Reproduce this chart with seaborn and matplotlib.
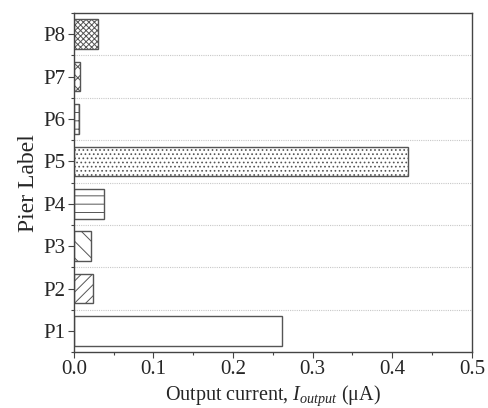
import matplotlib
matplotlib.use("Agg")
import matplotlib.pyplot as plt
import seaborn as sns
import pandas as pd
from matplotlib.ticker import MultipleLocator, FixedLocator

labels = ["P1", "P2", "P3", "P4", "P5", "P6", "P7", "P8"]
values = [0.261, 0.024, 0.021, 0.038, 0.420, 0.0067, 0.0075, 0.0305]
hatches = ["", "///", "\\\\", "--", "....", "++", "xxx", "xxxxxx"]

sns.set_theme(style="ticks")
plt.rcParams["font.family"] = ["Liberation Serif", "DejaVu Serif"]
plt.rcParams["mathtext.fontset"] = "custom"
plt.rcParams["mathtext.it"] = "Liberation Serif:italic"
plt.rcParams["mathtext.rm"] = "Liberation Serif"
plt.rcParams["hatch.color"] = "#555555"
plt.rcParams["hatch.linewidth"] = 0.7

df = pd.DataFrame({"label": labels, "value": values})
order = labels[::-1]

fig = plt.figure(figsize=(4.89, 4.08), dpi=100)
ax = fig.add_axes([0.151, 0.137, 0.814, 0.831])
sns.barplot(data=df, x="value", y="label", order=order, orient="h",
            color="white", edgecolor="#555555", linewidth=1.0, width=0.7,
            saturation=1, ax=ax)

for patch, lab in zip(ax.patches, order):
    patch.set_hatch(hatches[labels.index(lab)])
    patch.set_facecolor("white")

ax.set_xlim(0, 0.5)
ax.set_ylim(7.5, -0.5)
ax.xaxis.set_major_locator(MultipleLocator(0.1))
ax.xaxis.set_minor_locator(MultipleLocator(0.05))
ax.yaxis.set_minor_locator(FixedLocator([i + 0.5 for i in range(-1, 8)]))
ax.xaxis.set_major_formatter(matplotlib.ticker.FormatStrFormatter("%.1f"))

for yb in [i + 0.5 for i in range(0, 7)]:
    ax.axhline(yb, color="#c8c8c8", linestyle=(0, (1, 1)), linewidth=0.8, zorder=0)

for sp in ax.spines.values():
    sp.set_color("#444444")
    sp.set_linewidth(1.0)

ax.tick_params(axis="both", which="major", labelsize=15, length=4, color="#444444", width=0.8, pad=2)
ax.tick_params(axis="both", which="minor", length=2.5, color="#444444", width=0.8)
ax.set_xlabel(r"Output current, $I_{output}$ ($\mathrm{\mu}$A)", fontsize=14.5, labelpad=3)
ax.set_ylabel("Pier Label", fontsize=17, labelpad=3)

fig.savefig("out.png", dpi=100)
